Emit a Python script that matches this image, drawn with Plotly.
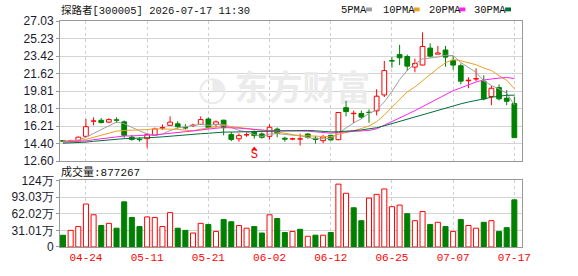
import plotly.graph_objects as go
import pandas as pd

# ---------------- data ----------------
dates = ["04-21","04-22","04-23","04-24","04-27","04-28","04-29","04-30","05-06","05-07",
         "05-08","05-11","05-12","05-13","05-14","05-15","05-18","05-19","05-20","05-21",
         "05-22","05-25","05-26","05-27","05-28","05-29","06-01","06-02","06-03","06-04",
         "06-05","06-08","06-09","06-10","06-11","06-12","06-15","06-16","06-17","06-18",
         "06-22","06-23","06-24","06-25","06-26","06-29","06-30","07-01","07-02","07-03",
         "07-06","07-07","07-08","07-09","07-10","07-13","07-14","07-15","07-16","07-17"]
opens = [14.70,14.66,14.73,15.15,16.70,16.80,16.61,16.85,16.64,15.06,
         14.85,14.90,15.25,16.00,16.28,16.44,16.05,16.25,16.38,16.93,
         16.38,16.81,15.32,14.89,15.28,15.65,15.39,15.15,15.89,14.95,
         14.86,14.86,15.39,14.95,14.70,15.25,14.80,18.10,17.48,17.50,
         17.62,17.77,19.41,22.95,23.57,23.37,22.28,22.49,24.24,23.61,
         24.04,22.98,22.42,20.88,21.05,20.83,19.25,20.17,19.08,18.52]
highs = [14.75,14.80,15.12,16.93,17.10,17.03,17.00,17.10,16.78,15.30,
         15.05,15.50,16.05,16.38,17.20,16.70,16.40,16.45,17.20,17.10,
         16.78,16.85,15.60,15.45,15.55,15.75,15.55,16.38,16.05,15.10,
         15.00,15.42,15.45,15.20,15.30,15.30,17.62,18.79,17.80,17.80,
         17.92,20.00,22.92,23.31,24.57,23.57,23.14,25.86,24.72,24.46,
         24.46,23.41,22.65,21.23,22.15,21.43,20.34,20.50,19.90,19.25]
lows = [14.55,14.58,14.68,15.05,16.28,16.48,16.50,16.54,15.00,14.70,
        14.60,13.96,15.20,15.82,16.25,15.95,15.85,16.10,16.35,15.95,
        16.05,15.25,14.65,14.60,15.10,14.90,14.90,14.80,15.05,14.60,
        14.75,14.20,14.90,14.40,14.45,14.70,14.75,17.20,16.50,16.95,
        16.54,17.30,19.20,22.22,22.49,21.88,21.75,22.45,23.24,23.60,
        22.32,22.00,20.50,20.10,20.83,18.86,18.36,18.85,18.36,15.01]
closes = [14.64,14.72,15.06,16.14,16.74,16.56,16.87,16.80,15.25,14.83,
          14.80,15.35,15.91,16.04,16.61,16.14,16.00,16.30,16.87,16.04,
          16.64,16.04,14.83,15.22,15.32,15.22,15.05,16.08,15.45,14.85,
          14.90,14.88,15.05,14.82,15.08,14.78,17.60,17.70,17.53,17.13,
          17.60,19.28,21.92,22.90,23.24,22.38,22.65,24.40,23.41,23.74,
          23.31,22.49,20.83,20.93,21.09,19.00,20.10,19.01,18.76,15.01]
# closes before the visible window (needed for the moving averages)
prior_closes = [14.2,14.3,14.1,14.2,14.4,14.3,14.2,14.3,14.1,14.2,
                14.3,14.4,14.5,14.3,14.4,14.6,14.5,14.4,14.6,14.5,
                14.6,14.7,14.6,14.5,14.7,14.6,14.7,14.6,14.7]
# volume in 万股
volumes = [21.9,31,38,80,60,40,44,35,84,55,
           38,56,55,38,64,35,31,26,44,42,
           29,51,47,40,35,38,26,60,53,27,
           29,33,20,22,22,27,117,100,73,49,
           91,98,108,75,78,62,49,66,42,46,
           38,29,51,40,35,46,49,29,36,87.7267]
vol_up = [0,1,1,1,1,0,1,0,0,0,
          0,1,1,1,1,0,0,1,1,0,
          1,0,0,1,1,0,0,1,0,0,
          1,0,1,0,1,0,1,1,0,0,
          1,1,1,1,1,0,1,1,0,1,
          0,1,0,1,1,0,1,0,0,0]
tick_dates = ["04-24","05-11","05-21","06-02","06-12","06-25","07-07","07-17"]
price_ticks = [12.60,14.40,16.21,18.01,19.81,21.62,23.42,25.23,27.03]
price_tick_text = ["12.60","14.40","16.21","18.01","19.81","21.62","23.42","25.23","27.03"]
vol_ticks = [0,31.01,62.02,93.03,124.04]
vol_tick_text = ["0","31.01万","62.02万","93.03万","124万"]
ma_periods = [5,10,20,30]
ma_names = ["5PMA","10PMA","20PMA","30PMA"]
ma_colors = ["#a0a0a0","#f0a020","#ff22ee","#00703a"]
signal_dates = ["05-29"]
signal_text = ["S"]
title_text = "探路者[300005] 2026-07-17 11:30"
vol_label = "成交量:877267"
watermark = "东方财富"

RED = "#ff0000"
GREEN = "#008000"

# -------------- layout helpers --------------
W, H = 578, 276
ML, MR, MT, MB = 57, 56, 21, 21
PW, PH = W - ML - MR, H - MT - MB
def px2x(px):
    return (px - ML) / PW
def py2y(py):
    return 1 - (py - MT) / PH

price_dom = [py2y(166), 1.0]
vol_dom = [0.0, py2y(186)]

fig = go.Figure()

# watermark (drawn first, on a hidden overlaid axis so it sits behind the candles)
fig.add_trace(go.Scatter(x=[0.525], y=[0.5], mode="text", text=[watermark],
                         textfont=dict(size=34, color="#ebebeb", family="Noto Sans CJK SC", weight="bold"),
                         hoverinfo="skip", showlegend=False, xaxis="x3", yaxis="y3"))
fig.add_trace(go.Scatter(x=[0.33], y=[0.5], mode="text", text=["◔"],
                         textfont=dict(size=34, color="#ebebeb", family="DejaVu Sans"),
                         hoverinfo="skip", showlegend=False, xaxis="x3", yaxis="y3"))

# candle bodies
up_idx = [i for i in range(len(dates)) if closes[i] >= opens[i]]
dn_idx = [i for i in range(len(dates)) if closes[i] < opens[i]]
def body(idx):
    xs = [dates[i] for i in idx]
    base = [min(opens[i], closes[i]) for i in idx]
    hgt = [max(abs(closes[i] - opens[i]), 0.03) for i in idx]
    return xs, base, hgt
xs, base, hgt = body(up_idx)
fig.add_trace(go.Bar(x=xs, y=hgt, base=base, width=0.62,
                     marker=dict(color="white", line=dict(color=RED, width=1)),
                     showlegend=False, hoverinfo="skip", xaxis="x", yaxis="y"))
xs, base, hgt = body(dn_idx)
fig.add_trace(go.Bar(x=xs, y=hgt, base=base, width=0.62,
                     marker=dict(color=GREEN, line=dict(color=GREEN, width=1)),
                     showlegend=False, hoverinfo="skip", xaxis="x", yaxis="y"))

# wicks
def wicks(idx):
    wx, wy = [], []
    for i in idx:
        top = max(opens[i], closes[i]); bot = min(opens[i], closes[i])
        if highs[i] > top:
            wx += [dates[i], dates[i], None]; wy += [top, highs[i], None]
        if lows[i] < bot:
            wx += [dates[i], dates[i], None]; wy += [lows[i], bot, None]
    return wx, wy
for idx, col in ((up_idx, RED), (dn_idx, GREEN)):
    wx, wy = wicks(idx)
    fig.add_trace(go.Scatter(x=wx, y=wy, mode="lines", line=dict(color=col, width=1),
                             showlegend=False, hoverinfo="skip", xaxis="x", yaxis="y"))

# moving averages
allc = pd.Series(prior_closes + closes)
n_prior = len(prior_closes)
for p, col in zip(ma_periods, ma_colors):
    ma = allc.rolling(p).mean().iloc[n_prior:].tolist()
    fig.add_trace(go.Scatter(x=dates, y=ma, mode="lines", line=dict(color=col, width=1),
                             showlegend=False, hoverinfo="skip", xaxis="x", yaxis="y"))

# signal marker
fig.add_trace(go.Scatter(x=signal_dates, y=[13.85] * len(signal_dates), mode="markers",
                         marker=dict(symbol="triangle-up", size=5, color=RED),
                         showlegend=False, hoverinfo="skip", xaxis="x", yaxis="y"))
fig.add_trace(go.Scatter(x=signal_dates, y=[13.2] * len(signal_dates), mode="text", text=signal_text,
                         textfont=dict(size=12, color=RED, family="Liberation Mono"),
                         showlegend=False, hoverinfo="skip", xaxis="x", yaxis="y"))

# volume bars
vu = [i for i in range(len(dates)) if vol_up[i]]
vd = [i for i in range(len(dates)) if not vol_up[i]]
fig.add_trace(go.Bar(x=[dates[i] for i in vu], y=[volumes[i] for i in vu], width=0.66,
                     marker=dict(color="white", line=dict(color=RED, width=1)),
                     showlegend=False, hoverinfo="skip", xaxis="x2", yaxis="y2"))
fig.add_trace(go.Bar(x=[dates[i] for i in vd], y=[volumes[i] for i in vd], width=0.66,
                     marker=dict(color=GREEN, line=dict(color=GREEN, width=1)),
                     showlegend=False, hoverinfo="skip", xaxis="x2", yaxis="y2"))

xrange = [-0.39, len(dates)]
common_x = dict(type="category", categoryorder="array", categoryarray=dates, range=xrange,
                tickvals=tick_dates, showgrid=True, gridcolor="#cfcfcf", griddash="3px,3px",
                gridwidth=1, showline=True, mirror=True, linecolor="#999999", linewidth=1,
                zeroline=False, ticks="", fixedrange=True)
tickfont_y = dict(family="Liberation Sans", size=12, color="#1a1a2e")

fig.update_layout(
    width=W, height=H, margin=dict(l=ML, r=MR, t=MT, b=MB),
    paper_bgcolor="white", plot_bgcolor="white", barmode="overlay", showlegend=False,
    xaxis3=dict(domain=[0, 1], anchor="y3", range=[0, 1], visible=False, fixedrange=True),
    yaxis3=dict(domain=price_dom, anchor="x3", range=[0, 1], visible=False, fixedrange=True),
    xaxis=dict(common_x, domain=[0, 1], anchor="y", showticklabels=False, overlaying="x3"),
    yaxis=dict(domain=price_dom, range=[12.60, 27.03], tickvals=price_ticks, ticktext=price_tick_text,
               showgrid=True, gridcolor="#d4d4d4", gridwidth=1, showline=True, mirror=True,
               linecolor="#999999", ticks="outside", ticklen=3, tickcolor="#999999",
               tickfont=tickfont_y, zeroline=False, anchor="x", overlaying="y3"),
    xaxis2=dict(common_x, domain=[0, 1], anchor="y2", showticklabels=True,
                tickfont=dict(family="Liberation Mono", size=11, color=RED)),
    yaxis2=dict(domain=vol_dom, range=[0, 124.04], tickvals=vol_ticks, ticktext=vol_tick_text,
                showgrid=True, gridcolor="#d4d4d4", gridwidth=1, showline=True, mirror=True,
                linecolor="#999999", ticks="outside", ticklen=3, tickcolor="#999999",
                tickfont=tickfont_y, zeroline=False, anchor="x2"),
)

ann = []
ann.append(dict(text=title_text, x=px2x(56), y=py2y(10), xref="paper", yref="paper",
                xanchor="left", yanchor="middle", showarrow=False,
                font=dict(family="Liberation Mono, Noto Sans CJK SC", size=10.5, color="#111111")))
ann.append(dict(text=vol_label, x=px2x(56), y=py2y(177), xref="paper", yref="paper",
                xanchor="left", yanchor="middle", showarrow=False,
                font=dict(family="Liberation Mono, Noto Sans CJK SC", size=11, color="#111111")))
leg_x = [338, 380, 426, 472]
sq_x = [365, 413, 459, 505]
shapes = []
for name, col, lx, sx in zip(ma_names, ma_colors, leg_x, sq_x):
    ann.append(dict(text=name, x=px2x(lx), y=py2y(10), xref="paper", yref="paper",
                    xanchor="left", yanchor="middle", showarrow=False,
                    font=dict(family="Liberation Mono", size=10.5, color="#111111")))
    shapes.append(dict(type="rect", xref="paper", yref="paper", x0=px2x(sx), x1=px2x(sx + 6),
                       y0=py2y(11), y1=py2y(7), fillcolor=col, line=dict(width=0)))
fig.update_layout(annotations=ann, shapes=shapes)

fig.write_html("out.html")
